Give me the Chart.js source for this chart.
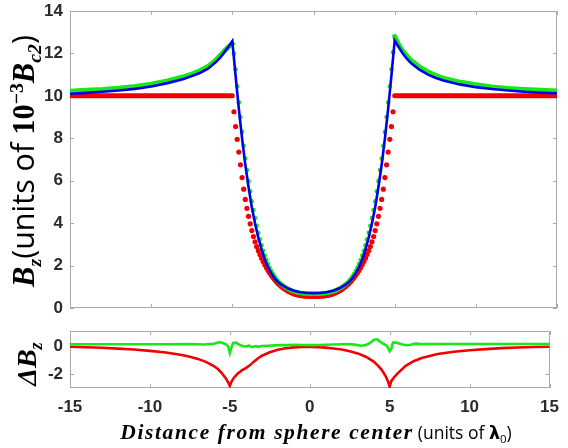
<!DOCTYPE html>
<html>
<head>
<meta charset="utf-8">
<script src="https://cdn.jsdelivr.net/npm/chart.js@4.4.0/dist/chart.umd.min.js"></script>
<style>
  html, body { margin: 0; padding: 0; background: #fff; }
  #wrap { position: relative; width: 568px; height: 448px; overflow: hidden; }
  canvas { position: absolute; left: 0; }
  #top { top: 0; }
  #bottom { top: 320px; }
  .t { position: absolute; white-space: nowrap; color: #000; line-height: 1; }
  .vt { transform: translate(-50%, -50%) rotate(-90deg); }
  .ht { transform: translate(-50%, -50%); }
  .bi { font-family: "Liberation Serif", "DejaVu Serif", serif; font-weight: bold; font-style: italic; }
  .b { font-family: "Liberation Serif", "DejaVu Serif", serif; font-weight: bold; }
  .sans { font-family: "Open Sans", "Lato", sans-serif; font-weight: normal; }
  sub, sup { font-size: 0.65em; }
</style>
</head>
<body>
<div id="wrap">
  <canvas id="top" width="568" height="320"></canvas>
  <canvas id="bottom" width="568" height="128"></canvas>

  <div class="t vt" style="left:26px; top:161px; font-size:30.5px;"><span class="bi">B</span><sub class="bi">z</sub><span class="sans">(units of </span><span class="b">10</span><sup class="b">−3</sup><span class="bi">B</span><sub class="bi">c2</sub><span class="sans">)</span></div>
  <div class="t vt" style="left:29px; top:364px; font-size:28px;"><span class="bi">ΔB</span><sub class="bi">z</sub></div>
  <div class="t ht" style="left:316px; top:433px;"><span class="bi" style="font-size:21.5px; letter-spacing:1.6px;">Distance from sphere center</span> <span class="sans" style="font-size:17.5px;">(units of <b style="font-family:'DejaVu Sans';">λ</b><sub>0</sub>)</span></div>
</div>

<script>
var xTicks = [-15, -10, -5, 0, 5, 10, 15];
var topYTicks = [0, 2, 4, 6, 8, 10, 12, 14];
var bottomYTicks = [-2, 0];

// sample positions inside the sphere, 0.1 apart
var dotX = [];
for (var i = -49; i <= 49; i++) dotX.push(i / 10);

var redDots = [
  9.25, 8.55, 7.95, 7.35, 6.75, 6.15, 5.6, 5.12, 4.7, 4.32,
  3.97, 3.65, 3.37, 3.12, 2.9, 2.7, 2.52, 2.35, 2.19, 2.04,
  1.9, 1.77, 1.65, 1.54, 1.44, 1.34, 1.25, 1.17, 1.1, 1.03,
  0.97, 0.91, 0.86, 0.81, 0.77, 0.73, 0.7, 0.67, 0.64, 0.62,
  0.6, 0.59, 0.58, 0.57, 0.56, 0.56, 0.55, 0.55, 0.55,
  0.55,
  0.55, 0.55, 0.55, 0.56, 0.56, 0.57, 0.58, 0.59, 0.6,
  0.62, 0.64, 0.67, 0.7, 0.73, 0.77, 0.81, 0.86, 0.91, 0.97,
  1.03, 1.1, 1.17, 1.25, 1.34, 1.44, 1.54, 1.65, 1.77, 1.9,
  2.04, 2.19, 2.35, 2.52, 2.7, 2.9, 3.12, 3.37, 3.65, 3.97,
  4.32, 4.7, 5.12, 5.6, 6.15, 6.75, 7.35, 7.95, 8.55, 9.25
];

var greenDots = [
  12.0, 11.25, 10.45, 9.7, 9.0, 8.3, 7.65, 7.05, 6.5, 5.98,
  5.5, 5.03, 4.62, 4.24, 3.88, 3.55, 3.24, 2.96, 2.7, 2.47,
  2.26, 2.07, 1.9, 1.74, 1.6, 1.48, 1.37, 1.28, 1.2, 1.13,
  1.07, 1.01, 0.96, 0.92, 0.88, 0.84, 0.81, 0.78, 0.76, 0.74,
  0.72, 0.71, 0.7, 0.69, 0.68, 0.68, 0.67, 0.67, 0.67,
  0.67,
  0.67, 0.67, 0.67, 0.68, 0.68, 0.69, 0.7, 0.71, 0.72,
  0.74, 0.76, 0.78, 0.81, 0.84, 0.88, 0.92, 0.96, 1.01, 1.07,
  1.13, 1.2, 1.28, 1.37, 1.48, 1.6, 1.74, 1.9, 2.07, 2.26,
  2.47, 2.7, 2.96, 3.24, 3.55, 3.88, 4.24, 4.62, 5.03, 5.5,
  5.98, 6.5, 7.05, 7.65, 8.3, 9.0, 9.7, 10.45, 11.25, 12.05
];

// outside the sphere (null splits left and right parts)
var redOuterX = [-15, -5, 0, 5, 15];
var redOuterY = [10, 10, null, 10, 10];

var greenOuterX = [-15, -14, -13, -12, -11, -10, -9, -8, -7.5, -7, -6.5, -6, -5.75, -5.5, -5.25, -5,
  0,
  5, 5.25, 5.5, 5.75, 6, 6.5, 7, 7.5, 8, 9, 10, 11, 12, 13, 14, 15];
var greenOuterY = [10.22, 10.26, 10.3, 10.36, 10.44, 10.55, 10.7, 10.9, 11.03, 11.18, 11.38, 11.7, 11.9, 12.12, 12.3, 12.45,
  null,
  12.8, 12.4, 12.12, 11.88, 11.68, 11.38, 11.15, 10.97, 10.83, 10.65, 10.52, 10.42, 10.35, 10.3, 10.26, 10.23];

var blueX = [-15, -14, -13, -12, -11, -10, -9, -8, -7.5, -7, -6.5, -6, -5.75, -5.5, -5.25, -5,
  -4.8, -4.6, -4.4, -4.2, -4, -3.8, -3.6, -3.4, -3.2, -3, -2.8, -2.6, -2.4, -2.2, -2, -1.6, -1.2, -0.8, -0.4, 0,
  0.4, 0.8, 1.2, 1.6, 2, 2.2, 2.4, 2.6, 2.8, 3, 3.2, 3.4, 3.6, 3.8, 4, 4.2, 4.4, 4.6, 4.8, 5,
  5.25, 5.5, 5.75, 6, 6.5, 7, 7.5, 8, 9, 10, 11, 12, 13, 14, 15];
var blueY = [10.1, 10.14, 10.19, 10.25, 10.33, 10.44, 10.6, 10.8, 10.93, 11.08, 11.28, 11.6, 11.8, 12.05, 12.3, 12.58,
  10.95, 9.4, 8.0, 6.75, 5.7, 4.75, 3.98, 3.32, 2.76, 2.29, 1.93, 1.64, 1.41, 1.24, 1.11, 0.93, 0.81, 0.74, 0.71, 0.7,
  0.71, 0.74, 0.81, 0.93, 1.11, 1.24, 1.41, 1.64, 1.93, 2.29, 2.76, 3.32, 3.98, 4.75, 5.7, 6.75, 8.0, 9.4, 10.95, 12.6,
  12.3, 12.0, 11.75, 11.55, 11.25, 11.02, 10.85, 10.72, 10.54, 10.41, 10.32, 10.25, 10.19, 10.15, 10.12];

// difference panel
var redDiffX = [-15, -14, -13, -12, -11, -10, -9, -8, -7.5, -7,
  -6.5, -6, -5.75, -5.5, -5.25, -5.1, -5, -4.9, -4.75, -4.5,
  -4.25, -4, -3.75, -3.5, -3.25, -3, -2.5, -2, -1.5, -1,
  -0.5, 0, 0.5, 1, 1.5, 2, 2.5, 3, 3.5, 4,
  4.25, 4.5, 4.75, 4.9, 5, 5.1, 5.25, 5.5, 6, 6.5,
  7, 8, 9, 10, 11, 12, 13, 14, 15];
var redDiffY = [0, -0.03, -0.07, -0.13, -0.2, -0.3, -0.42, -0.6, -0.73, -0.88,
  -1.1, -1.4, -1.62, -1.92, -2.3, -2.6, -2.85, -2.55, -2.25, -1.95,
  -1.72, -1.55, -1.35, -1.08, -0.85, -0.65, -0.4, -0.22, -0.1, -0.04,
  -0.02, -0.02, -0.03, -0.06, -0.12, -0.2, -0.32, -0.48, -0.72, -1.08,
  -1.35, -1.68, -2.15, -2.55, -2.9, -2.5, -2.25, -1.93, -1.38, -1.05,
  -0.82, -0.53, -0.36, -0.25, -0.17, -0.1, -0.05, -0.02, 0.0];

var greenDiffX = [-15, -13, -11, -9, -7.5, -7, -6.6, -6.3, -6, -5.8,
  -5.6, -5.4, -5.2, -5.1, -5.0, -4.9, -4.8, -4.6, -4.4, -4.2,
  -4.0, -3.8, -3.6, -3.4, -3.2, -3.0, -2.6, -2.2, -1.8, -1.4,
  -1.0, -0.5, 0, 0.5, 1.0, 1.5, 2.0, 2.5, 2.9, 3.2,
  3.5, 3.8, 4.0, 4.2, 4.4, 4.6, 4.8, 4.9, 5.0, 5.1,
  5.2, 5.4, 5.7, 6.0, 6.3, 6.6, 7.0, 8, 10, 12,
  15];
var greenDiffY = [0.18, 0.19, 0.19, 0.19, 0.2, 0.19, 0.17, 0.2, 0.22, 0.3,
  0.33, 0.26, 0.15, 0.0, -0.45, -0.05, 0.28, 0.3, 0.15, 0.05,
  0.02, 0.08, -0.03, 0.05, 0.0, 0.06, 0.08, 0.1, 0.13, 0.12,
  0.15, 0.13, 0.12, 0.13, 0.15, 0.17, 0.19, 0.2, 0.14, 0.08,
  0.12, 0.3, 0.5, 0.56, 0.38, 0.22, 0.1, -0.1, -0.32, -0.15,
  0.3, 0.3, 0.2, 0.12, 0.15, 0.23, 0.2, 0.2, 0.2, 0.2,
  0.2];

var RED = 'rgb(242, 0, 0)';
var GREEN = 'rgb(24, 232, 24)';
var BLUE = 'rgb(0, 0, 235)';
var FRAME = '#a9a9a9';
var tickFont = { family: 'Liberation Sans, Arial, sans-serif', size: 17, weight: 'bold' };

function pts(xs, ys) {
  return xs.map(function (x, i) { return { x: x, y: ys[i] }; });
}

function fixedTicks(list) {
  return function (scale) {
    scale.ticks = list.map(function (v) { return { value: v }; });
  };
}

// box around the plot with short inward ticks on every side
function makeFrame(xt, yt) {
  return {
    id: 'frame',
    beforeDatasetsDraw: function (chart) {
      var a = chart.chartArea, ctx = chart.ctx;
      var sx = chart.scales.x, sy = chart.scales.y;
      ctx.save();
      ctx.strokeStyle = FRAME;
      ctx.lineWidth = 1;
      ctx.beginPath();
      ctx.rect(Math.round(a.left) + 0.5, Math.round(a.top) + 0.5,
        Math.round(a.right) - Math.round(a.left) - 1, Math.round(a.bottom) - Math.round(a.top) - 1);
      xt.forEach(function (v) {
        var p = Math.round(sx.getPixelForValue(v)) + 0.5;
        ctx.moveTo(p, a.top); ctx.lineTo(p, a.top + 4);
        ctx.moveTo(p, a.bottom); ctx.lineTo(p, a.bottom - 4);
      });
      yt.forEach(function (v) {
        var p = Math.round(sy.getPixelForValue(v)) + 0.5;
        ctx.moveTo(a.left, p); ctx.lineTo(a.left + 4, p);
        ctx.moveTo(a.right, p); ctx.lineTo(a.right - 4, p);
      });
      ctx.stroke();
      ctx.restore();
    }
  };
}

function yAxis(min, max, ticks) {
  return {
    type: 'linear', min: min, max: max,
    afterBuildTicks: fixedTicks(ticks),
    // fixed width, and no extra room asked for the end labels
    afterFit: function (s) { s.width = 70; s.paddingTop = 0; s.paddingBottom = 0; },
    ticks: { font: tickFont, color: '#2b2b2b', padding: 7 },
    grid: { display: false, drawTicks: false },
    border: { display: false }
  };
}

new Chart(document.getElementById('top'), {
  type: 'scatter',
  data: {
    datasets: [
      { data: pts(blueX, blueY), showLine: true, borderColor: BLUE, borderWidth: 2.6, pointRadius: 0, tension: 0 },
      { data: pts(dotX, greenDots), pointRadius: 2.3, backgroundColor: GREEN, borderWidth: 0 },
      { data: pts(greenOuterX, greenOuterY), showLine: true, borderColor: GREEN, borderWidth: 5, borderCapStyle: 'round', pointRadius: 0, spanGaps: false },
      { data: pts(dotX, redDots), pointRadius: 2.6, backgroundColor: RED, borderWidth: 0 },
      { data: pts(redOuterX, redOuterY), showLine: true, borderColor: RED, borderWidth: 5, borderCapStyle: 'round', pointRadius: 0, spanGaps: false }
    ]
  },
  options: {
    responsive: false,
    animation: false,
    layout: { padding: { top: 11, right: 11, bottom: 12, left: 0 } },
    plugins: { legend: { display: false }, tooltip: { enabled: false } },
    scales: {
      x: {
        type: 'linear', min: -15, max: 15,
        afterBuildTicks: fixedTicks(xTicks),
        afterFit: function (s) { s.height = 0; },
        ticks: { display: false },
        grid: { display: false, drawTicks: false },
        border: { display: false }
      },
      y: yAxis(0, 14, topYTicks)
    }
  },
  plugins: [makeFrame(xTicks, topYTicks)]
});

new Chart(document.getElementById('bottom'), {
  type: 'scatter',
  data: {
    datasets: [
      { data: pts(greenDiffX, greenDiffY), showLine: true, borderColor: GREEN, borderWidth: 2.6, pointRadius: 0, tension: 0 },
      { data: pts(redDiffX, redDiffY), showLine: true, borderColor: RED, borderWidth: 2.6, pointRadius: 0, tension: 0 }
    ]
  },
  options: {
    responsive: false,
    animation: false,
    layout: { padding: { top: 11, right: 11, bottom: 0, left: 0 } },
    plugins: { legend: { display: false }, tooltip: { enabled: false } },
    scales: {
      x: {
        type: 'linear', min: -15, max: 15,
        afterBuildTicks: fixedTicks(xTicks),
        afterFit: function (s) { s.height = 60; },
        ticks: { font: tickFont, color: '#2b2b2b', padding: 9, maxRotation: 0 },
        grid: { display: false, drawTicks: false },
        border: { display: false }
      },
      y: yAxis(-3, 1.15, bottomYTicks)
    }
  },
  plugins: [makeFrame(xTicks, bottomYTicks)]
});
</script>
</body>
</html>
